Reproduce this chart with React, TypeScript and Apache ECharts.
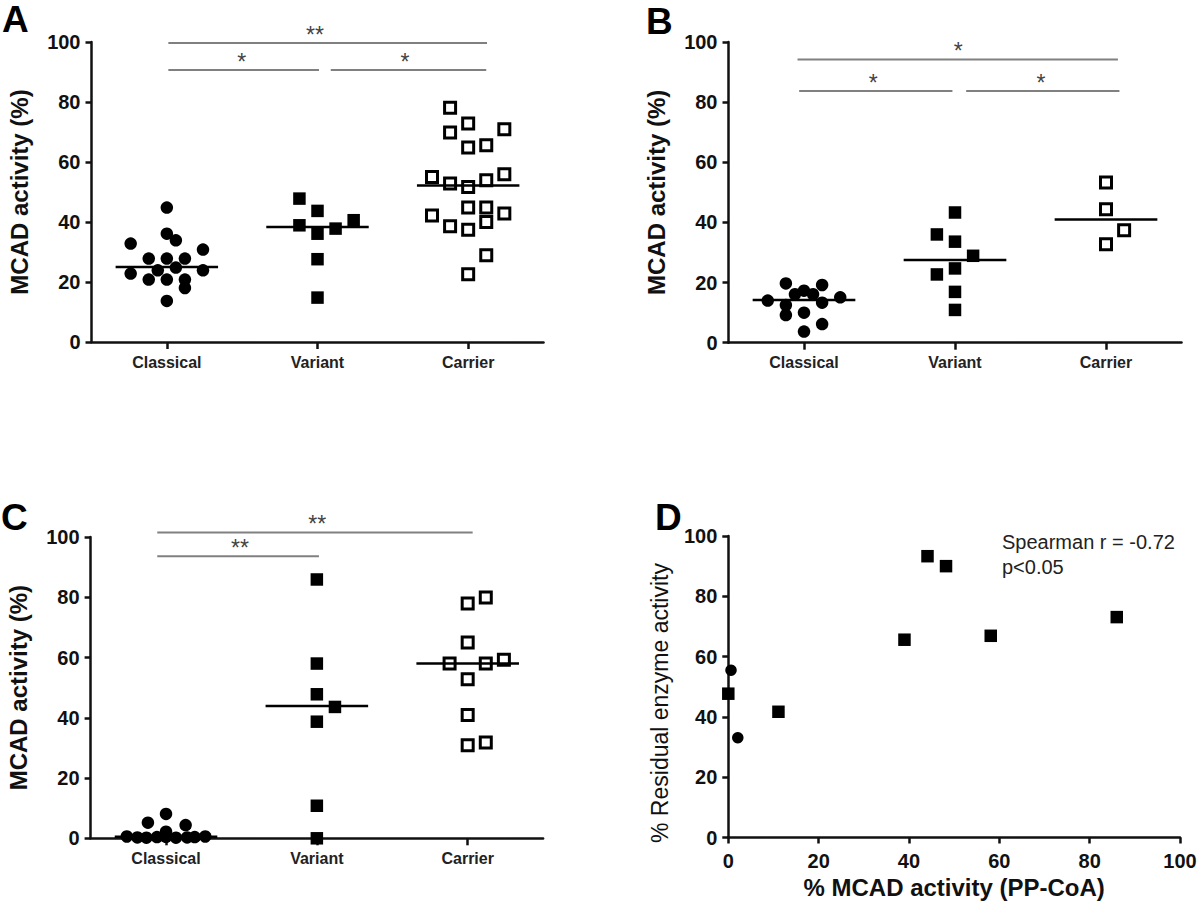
import React, { useEffect, useRef } from "react";
import * as echarts from "echarts";

// ---------- DATA ----------
const groups = ["Classical", "Variant", "Carrier"];
const yTicks = [0, 20, 40, 60, 80, 100];

// Panel A
const aClassical = [44.8, 36.1, 33.9, 32.8, 30.8, 27.8, 27.8, 27.8, 23.9, 24.8, 22.8, 23.9, 20.8, 20.8, 20.8, 18.0, 13.7];
const aClassicalX = [0, 0, 0.06, -0.24, 0.24, -0.12, 0, 0.12, -0.06, 0.06, -0.24, 0.24, -0.12, 0, 0.12, 0.12, 0];
const aVariant = [47.8, 43.7, 38.9, 36.1, 37.8, 40.6, 27.6, 14.8];
const aVariantX = [-0.12, 0, -0.12, 0, 0.12, 0.24, 0, 0];
const aCarrier = [78.1, 72.8, 69.8, 70.9, 64.8, 65.6, 55.0, 52.8, 51.7, 53.9, 55.9, 44.8, 44.8, 42.2, 42.8, 40.0, 38.6, 37.4, 28.9, 22.6];
const aCarrierX = [-0.12, 0, -0.12, 0.24, 0, 0.12, -0.24, -0.12, 0, 0.12, 0.24, 0, 0.12, -0.24, 0.24, 0.12, -0.12, 0, 0.12, 0];
const aMedians = [25.0, 38.3, 52.2];

// Panel B
const bClassical = [19.7, 19.2, 16.1, 17.3, 16.1, 14.0, 15.1, 12.5, 13.3, 9.2, 10.0, 6.2, 3.7];
const bClassicalX = [-0.12, 0.12, -0.06, 0, 0.06, -0.24, 0.24, -0.12, 0.12, -0.12, 0, 0.12, 0];
const bVariant = [43.3, 36.0, 33.6, 28.9, 22.7, 24.7, 16.9, 10.9];
const bVariantX = [0, -0.12, 0, 0.12, -0.12, 0, 0, 0];
const bCarrier = [53.3, 44.4, 37.4, 32.7];
const bCarrierX = [0, 0, 0.12, 0];
const bMedians = [14.2, 27.5, 41.0];

// Panel C
const cClassical = [8.1, 5.2, 4.4, 2.2, 0.6, 0.3, 0.2, 0.4, 0.5, 0.2, 0.3, 0.4, 0.6];
const cClassicalX = [0, -0.12, 0.13, 0, -0.26, -0.19, -0.13, -0.06, 0, 0.066, 0.14, 0.19, 0.26];
const cVariant = [85.9, 58.0, 47.8, 43.6, 38.7, 10.8, 0];
const cVariantX = [0, 0, 0, 0.12, 0, 0, 0];
const cCarrier = [79.9, 77.9, 65.0, 58.0, 58.0, 59.3, 52.8, 40.9, 30.9, 31.8];
const cCarrierX = [0.12, 0, 0, -0.12, 0.12, 0.24, 0, 0, 0, 0.12];
const cMedians = [0.5, 43.9, 58.0];

// Significance brackets: [from, to, level, label position, label] in group units (0..3)
type Bracket = [number, number, number, number, string];
const aBrackets: Bracket[] = [
  [0.51, 2.625, 99.7, 1.483, "**"],
  [0.51, 1.51, 90.7, 0.997, "*"],
  [1.588, 2.62, 90.7, 2.08, "*"],
];
const bBrackets: Bracket[] = [
  [0.457, 2.579, 94.2, 1.522, "*"],
  [0.468, 1.483, 83.7, 0.959, "*"],
  [1.574, 2.589, 83.7, 2.07, "*"],
];
const cBrackets: Bracket[] = [
  [0.442, 2.533, 101.5, 1.503, "**"],
  [0.442, 1.514, 93.6, 0.99, "**"],
];

// Panel D: [% MCAD activity (PP-CoA), % residual enzyme activity]
const dCircles = [
  [0.6, 55.5],
  [2.1, 33.1],
];
const dSquares = [
  [0, 47.7],
  [11.1, 41.7],
  [39.0, 65.6],
  [44.1, 93.3],
  [48.2, 90.0],
  [58.1, 66.9],
  [86.0, 73.1],
];
const dXTicks = [0, 20, 40, 60, 80, 100];

// ---------- STYLE ----------
const FONT = "'Liberation Sans', Arial, sans-serif";
const AXIS_W = 2.5;

const grids = [
  { left: 91.5, top: 42, width: 452, height: 300 },
  { left: 728.5, top: 42, width: 453, height: 300.7 },
  { left: 90.6, top: 537, width: 452.5, height: 301.3 },
  { left: 728.3, top: 536, width: 451.7, height: 301.5 },
];

function yAxisFor(gridIndex: number, name: string) {
  return {
    type: "value",
    gridIndex,
    min: yTicks[0],
    max: yTicks[yTicks.length - 1],
    interval: 20,
    name,
    nameLocation: "middle",
    nameGap: 60,
    nameRotate: 90,
    nameTextStyle: { fontFamily: FONT, fontSize: 24, fontWeight: "bold", color: "#111" },
    axisLine: { show: true, lineStyle: { color: "#111", width: AXIS_W } },
    axisTick: { show: true, length: 6, lineStyle: { color: "#111", width: AXIS_W } },
    axisLabel: { fontFamily: FONT, fontSize: 20, fontWeight: "bold", color: "#111", margin: 11 },
    splitLine: { show: false },
  };
}

function catAxisFor(gridIndex: number) {
  return {
    type: "category",
    gridIndex,
    data: groups,
    boundaryGap: true,
    axisLine: { show: true, lineStyle: { color: "#111", width: AXIS_W } },
    axisTick: { show: true, alignWithLabel: true, length: 7, lineStyle: { color: "#111", width: AXIS_W } },
    axisLabel: { fontFamily: FONT, fontSize: 16, fontWeight: "bold", color: "#222", margin: 12 },
    splitLine: { show: false },
  };
}

function hiddenAxisFor(gridIndex: number) {
  return { type: "value", gridIndex, min: 0, max: 3, show: false };
}

const circleStyle = { symbol: "circle", symbolSize: 12.5, itemStyle: { color: "#000", opacity: 1 } };
const squareStyle = { symbol: "rect", symbolSize: 12.5, itemStyle: { color: "#000", opacity: 1 } };
const openSquareStyle = {
  symbol: "rect",
  symbolSize: 11,
  itemStyle: { color: "#fff", borderColor: "#000", borderWidth: 3, opacity: 1 },
};

function dotSeries(xAxisIndex: number, yAxisIndex: number, groupIdx: number, vals: number[], offs: number[], style: any) {
  return {
    type: "scatter",
    xAxisIndex,
    yAxisIndex,
    clip: false,
    silent: true,
    data: vals.map((v, i) => [groupIdx + 0.5 + offs[i], v]),
    ...style,
    z: 3,
  };
}

function medianSeries(xAxisIndex: number, yAxisIndex: number, medians: number[]) {
  return medians.map((m, g) => ({
    type: "line",
    xAxisIndex,
    yAxisIndex,
    silent: true,
    showSymbol: false,
    symbol: "none",
    clip: false,
    data: [
      [g + 0.5 - 0.34, m],
      [g + 0.5 + 0.34, m],
    ],
    lineStyle: { color: "#000", width: 2.5 },
    z: 5,
  }));
}

function bracketSeries(xAxisIndex: number, yAxisIndex: number, brackets: Bracket[]) {
  const lines = brackets.map((b) => ({
    type: "line",
    xAxisIndex,
    yAxisIndex,
    silent: true,
    showSymbol: false,
    symbol: "none",
    clip: false,
    data: [
      [b[0], b[2]],
      [b[1], b[2]],
    ],
    lineStyle: { color: "#808080", width: 2 },
    z: 2,
  }));
  const labels = {
    type: "scatter",
    xAxisIndex,
    yAxisIndex,
    silent: true,
    clip: false,
    symbol: "circle",
    symbolSize: 1,
    itemStyle: { color: "rgba(255,255,255,0)", opacity: 1 },
    data: brackets.map((b) => ({ value: [b[3], b[2]], name: b[4] })),
    label: {
      show: true,
      position: "inside",
      offset: [0, -8],
      formatter: "{b}",
      fontFamily: FONT,
      fontSize: 23,
      color: "#444",
      opacity: 1,
    },
    z: 6,
  };
  return [...lines, labels];
}

const letterStyle = { fontFamily: FONT, fontSize: 37, fontWeight: "bold", fill: "#000" };

export default function App() {
  const ref = useRef<HTMLDivElement>(null);
  useEffect(() => {
    if (!ref.current) return;
    const chart = echarts.init(ref.current, null, { renderer: "svg" });
    const option: any = {
      animation: false,
      backgroundColor: "#fff",
      grid: grids.map((g) => ({ ...g, containLabel: false })),
      xAxis: [
        catAxisFor(0),
        hiddenAxisFor(0),
        catAxisFor(1),
        hiddenAxisFor(1),
        catAxisFor(2),
        hiddenAxisFor(2),
        {
          type: "value",
          gridIndex: 3,
          min: dXTicks[0],
          max: dXTicks[dXTicks.length - 1],
          interval: 20,
          name: "% MCAD activity (PP-CoA)",
          nameLocation: "middle",
          nameGap: 38,
          nameTextStyle: { fontFamily: FONT, fontSize: 24, fontWeight: "bold", color: "#111" },
          axisLine: { show: true, lineStyle: { color: "#111", width: AXIS_W } },
          axisTick: { show: true, length: 6, lineStyle: { color: "#111", width: AXIS_W } },
          axisLabel: { fontFamily: FONT, fontSize: 20, fontWeight: "bold", color: "#111", margin: 13 },
          splitLine: { show: false },
        },
      ],
      yAxis: [
        yAxisFor(0, "MCAD activity (%)"),
        yAxisFor(1, "MCAD activity (%)"),
        yAxisFor(2, "MCAD activity (%)"),
        { ...yAxisFor(3, ""), name: "" },
      ],
      series: [
        // Panel A
        dotSeries(1, 0, 0, aClassical, aClassicalX, circleStyle),
        dotSeries(1, 0, 1, aVariant, aVariantX, squareStyle),
        dotSeries(1, 0, 2, aCarrier, aCarrierX, openSquareStyle),
        ...medianSeries(1, 0, aMedians),
        ...bracketSeries(1, 0, aBrackets),
        // Panel B
        dotSeries(3, 1, 0, bClassical, bClassicalX, circleStyle),
        dotSeries(3, 1, 1, bVariant, bVariantX, squareStyle),
        dotSeries(3, 1, 2, bCarrier, bCarrierX, openSquareStyle),
        ...medianSeries(3, 1, bMedians),
        ...bracketSeries(3, 1, bBrackets),
        // Panel C
        dotSeries(5, 2, 0, cClassical, cClassicalX, circleStyle),
        dotSeries(5, 2, 1, cVariant, cVariantX, squareStyle),
        dotSeries(5, 2, 2, cCarrier, cCarrierX, openSquareStyle),
        ...medianSeries(5, 2, cMedians),
        ...bracketSeries(5, 2, cBrackets),
        // Panel D
        {
          type: "scatter",
          xAxisIndex: 6,
          yAxisIndex: 3,
          clip: false,
          silent: true,
          data: dCircles,
          symbol: "circle",
          symbolSize: 11.5,
          itemStyle: { color: "#000", opacity: 1 },
        },
        {
          type: "scatter",
          xAxisIndex: 6,
          yAxisIndex: 3,
          clip: false,
          silent: true,
          data: dSquares,
          symbol: "rect",
          symbolSize: 12.5,
          itemStyle: { color: "#000", opacity: 1 },
        },
      ],
      graphic: [
        { type: "text", left: 2, top: 1, style: { text: "A", ...letterStyle } },
        { type: "text", left: 646, top: 3, style: { text: "B", ...letterStyle } },
        { type: "text", left: 1, top: 499, style: { text: "C", ...letterStyle } },
        { type: "text", left: 655, top: 499, style: { text: "D", ...letterStyle } },
        {
          type: "text",
          x: 660,
          y: 703,
          rotation: Math.PI / 2,
          style: {
            text: "% Residual enzyme activity",
            fontFamily: FONT,
            fontSize: 23,
            fill: "#111",
            align: "center",
            verticalAlign: "middle",
          },
        },
        {
          type: "text",
          left: 1002,
          top: 529,
          style: {
            text: "Spearman r = -0.72\np<0.05",
            fontFamily: FONT,
            fontSize: 20,
            lineHeight: 25,
            fill: "#222",
          },
        },
      ],
    };
    chart.setOption(option);
    return () => chart.dispose();
  }, []);
  return (
    <div
      ref={ref}
      style={{ position: "absolute", left: 0, top: 0, width: 1200, height: 912, background: "#fff" }}
    />
  );
}
